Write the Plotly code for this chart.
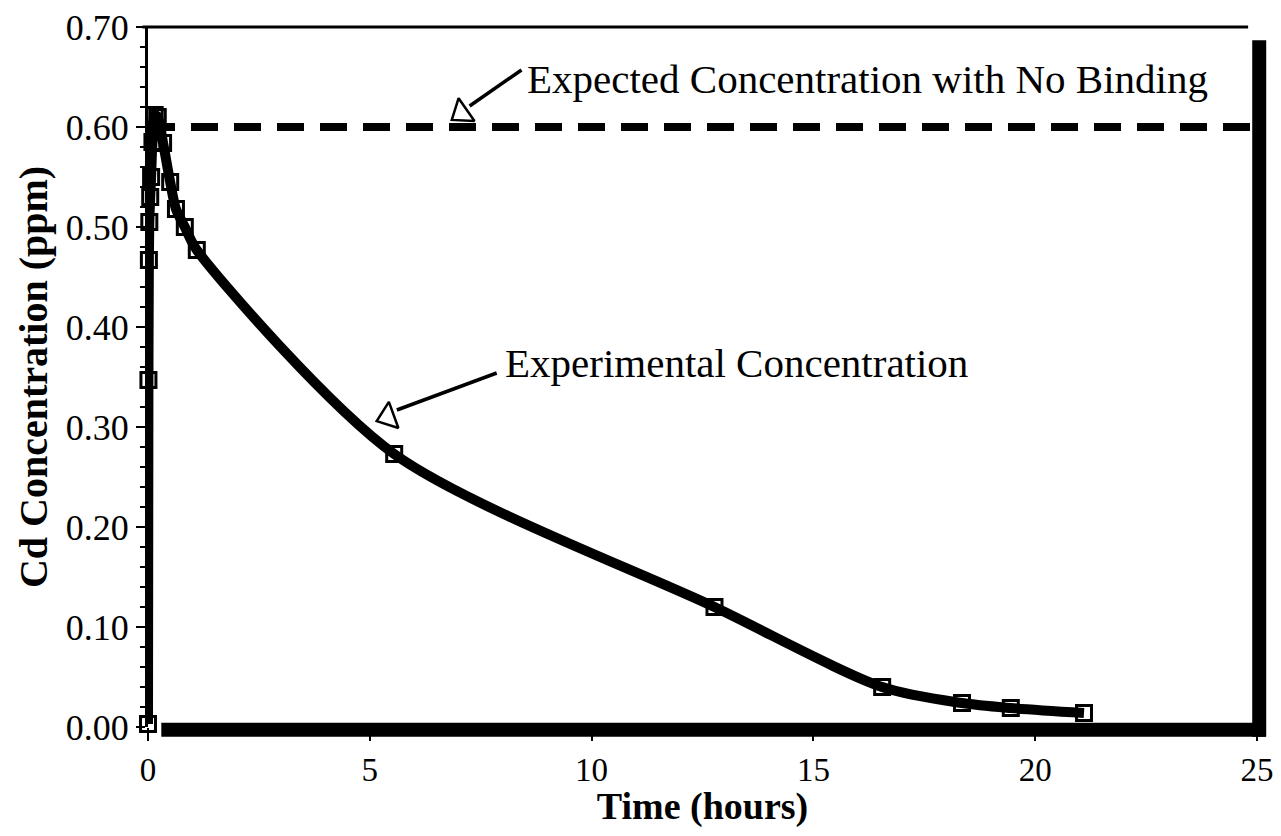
import plotly.graph_objects as go

# Experimental Cd concentration (ppm) vs time (hours)
time_h = [0.0, 0.01, 0.02, 0.03, 0.05, 0.07, 0.10, 0.15, 0.22, 0.34, 0.50, 0.63, 0.83, 1.10,
          5.55, 12.77, 16.55, 18.35, 19.45, 21.10]
conc_ppm = [0.003, 0.347, 0.467, 0.505, 0.530, 0.550, 0.585, 0.612, 0.610, 0.584, 0.545, 0.518,
            0.500, 0.477, 0.273, 0.120, 0.040, 0.024, 0.019, 0.014]

# Expected concentration with no binding
expected_time = [0, 25]
expected_conc = [0.60, 0.60]

x_ticks = [0, 5, 10, 15, 20, 25]
y_ticks = [0.0, 0.1, 0.2, 0.3, 0.4, 0.5, 0.6, 0.7]
y_ticklabels = ["0.00", "0.10", "0.20", "0.30", "0.40", "0.50", "0.60", "0.70"]

FONT = "Liberation Serif"

fig = go.Figure()

fig.add_trace(go.Scatter(
    x=expected_time, y=expected_conc, mode="lines",
    line=dict(color="black", width=8, dash="27px,16px"),
    hoverinfo="skip", showlegend=False))

fig.add_trace(go.Scatter(
    x=time_h, y=conc_ppm, mode="lines+markers",
    line=dict(color="black", width=10, shape="spline", smoothing=0.8),
    marker=dict(symbol="square-open", size=15, color="black", line=dict(width=3, color="black")),
    cliponaxis=False, showlegend=False))

# arrow heads (open triangles) for annotations
fig.add_trace(go.Scatter(
    x=[7.07, 5.41], y=[0.614, 0.310], mode="markers",
    marker=dict(symbol="triangle-up-open", size=24, color="black", angle=[235, 250],
                line=dict(width=2.5, color="black")),
    hoverinfo="skip", showlegend=False, cliponaxis=False))

shapes = [
    # arrow shafts
    dict(type="line", xref="x", yref="y", x0=7.25, y0=0.621, x1=8.42, y1=0.657,
         line=dict(color="black", width=3.5)),
    dict(type="line", xref="x", yref="y", x0=5.61, y0=0.317, x1=7.86, y1=0.354,
         line=dict(color="black", width=3.5)),
    # top thin frame line
    dict(type="line", xref="paper", yref="paper", x0=-0.005, y0=1.0, x1=0.992, y1=1.0,
         line=dict(color="black", width=3)),
    # thick bottom bar
    dict(type="line", xref="paper", yref="paper", x0=0.012, y0=-0.004, x1=1.008, y1=-0.004,
         line=dict(color="black", width=14)),
    # thick right bar
    dict(type="line", xref="paper", yref="paper", x0=1.002, y0=-0.014, x1=1.002, y1=0.981,
         line=dict(color="black", width=14)),
]

annotations = [
    dict(x=8.5, y=0.648, xref="x", yref="y", text="Expected Concentration with No Binding",
         showarrow=False, xanchor="left", yanchor="middle",
         font=dict(family=FONT, size=41, color="black")),
    dict(x=8.0, y=0.364, xref="x", yref="y", text="Experimental Concentration",
         showarrow=False, xanchor="left", yanchor="middle",
         font=dict(family=FONT, size=41, color="black")),
]

fig.update_layout(
    width=1265, height=820,
    margin=dict(l=140, r=16, t=19, b=101),
    paper_bgcolor="white", plot_bgcolor="white",
    shapes=shapes, annotations=annotations,
    font=dict(family=FONT, color="black"),
    xaxis=dict(
        range=[0, 25], tickvals=x_ticks, ticktext=[str(v) for v in x_ticks],
        ticks="outside", ticklen=13, tickwidth=2, tickcolor="black",
        showgrid=False, zeroline=False, showline=False, automargin=False,
        ticklabeloverflow="allow",
        tickfont=dict(family=FONT, size=33, color="black"),
        title=dict(text="<b>Time (hours)</b>", font=dict(family=FONT, size=38, color="black"),
                   standoff=2),
    ),
    yaxis=dict(
        range=[0, 0.70], tickvals=y_ticks, ticktext=y_ticklabels,
        ticks="outside", ticklen=9, tickwidth=2, tickcolor="black",
        minor=dict(dtick=0.02, ticks="outside", ticklen=5, tickwidth=1.5, tickcolor="black"),
        showgrid=False, zeroline=False, showline=True, linecolor="black", linewidth=3,
        automargin=False, ticklabeloverflow="allow",
        tickfont=dict(family=FONT, size=36, color="black"),
        title=dict(text="<b>Cd Concentration (ppm)</b>", font=dict(family=FONT, size=40, color="black"),
                   standoff=6),
    ),
)

fig.write_html("out.html")
